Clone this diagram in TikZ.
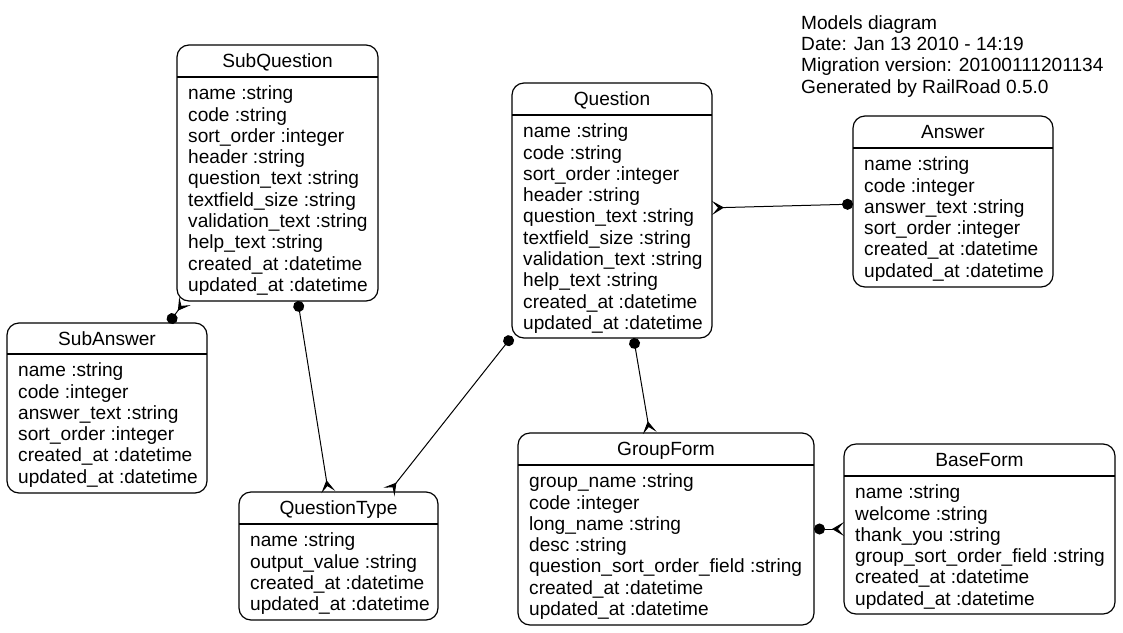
\documentclass[tikz,border=0pt]{standalone}
\usepackage{fontspec}
\setmainfont{Liberation Sans}
\usetikzlibrary{arrows.meta}
\tikzset{
  ebox/.style={draw, line width=1.2pt, rounded corners=12pt, inner sep=0pt, outer sep=0pt},
  eline/.style={line width=1.2pt},
  etitle/.style={inner sep=0pt},
  eattr/.style={inner sep=0pt, align=left},
  rel/.style={line width=1pt, arrows={Circle[length=11pt]-Stealth[reversed, length=12pt, width=14pt, inset=6pt]}}
}
\newcommand\ermodel[8]{%
  \node[ebox, anchor=north west, minimum width={#3-#2}, minimum height={#6-#4}] (#1) at (#2,-#4) {};
  \draw[eline] ([yshift={-(#5-#4)}]#1.north west) -- ([yshift={-(#5-#4)}]#1.north east);
  \node[etitle, anchor=base] (#1-t) at ({(#2+#3)/2},{-(#4+22)}) {#7};
  \node[eattr, anchor=north west] (#1-a) at ({#2+11},{-(#5+7.6)}) {\strut #8};
}
\begin{document}
\begin{tikzpicture}[x=1pt, y=1pt, font=\fontsize{19.1}{21.3}\selectfont]
\fill[white] (0,0) rectangle (1123,-632);
\useasboundingbox (0,0) rectangle (1123,-632);

\ermodel{sq}{177}{378}{45}{77}{301}{SubQuestion}{name :string\\ code :string\\ sort\_order :integer\\ header :string\\ question\_text :string\\ textfield\_size :string\\ validation\_text :string\\ help\_text :string\\ created\_at :datetime\\ updated\_at :datetime}
\ermodel{sa}{7}{207}{323}{354}{493}{SubAnswer}{name :string\\ code :integer\\ answer\_text :string\\ sort\_order :integer\\ created\_at :datetime\\ updated\_at :datetime}
\ermodel{q}{512}{712}{83}{115}{338}{Question}{name :string\\ code :string\\ sort\_order :integer\\ header :string\\ question\_text :string\\ textfield\_size :string\\ validation\_text :string\\ help\_text :string\\ created\_at :datetime\\ updated\_at :datetime}
\ermodel{a}{853}{1053}{116}{148}{287}{Answer}{name :string\\ code :integer\\ answer\_text :string\\ sort\_order :integer\\ created\_at :datetime\\ updated\_at :datetime}
\ermodel{qt}{239}{438}{492}{524}{620}{QuestionType}{name :string\\ output\_value :string\\ created\_at :datetime\\ updated\_at :datetime}
\ermodel{gf}{518}{814}{433}{465}{625}{GroupForm}{group\_name :string\\ code :integer\\ long\_name :string\\ desc :string\\ question\_sort\_order\_field :string\\ created\_at :datetime\\ updated\_at :datetime}
\ermodel{bf}{844}{1115}{444}{476}{614}{BaseForm}{name :string\\ welcome :string\\ thank\_you :string\\ group\_sort\_order\_field :string\\ created\_at :datetime\\ updated\_at :datetime}

\node[eattr, anchor=north west] (legend) at (801,{-(29-14.9)}) {\strut Models diagram\\ Date: Jan 13 2010 - 14:19\\ Migration version: 20100111201134\\ Generated by RailRoad 0.5.0};

\draw[rel] (sa) -- (sq);
\draw[rel] (sq) -- (qt);
\draw[rel] (q) -- (qt);
\draw[rel] (q) -- (gf);
\draw[rel] (a) -- (q);
\draw[rel] (gf) -- (bf);
\end{tikzpicture}
\end{document}
